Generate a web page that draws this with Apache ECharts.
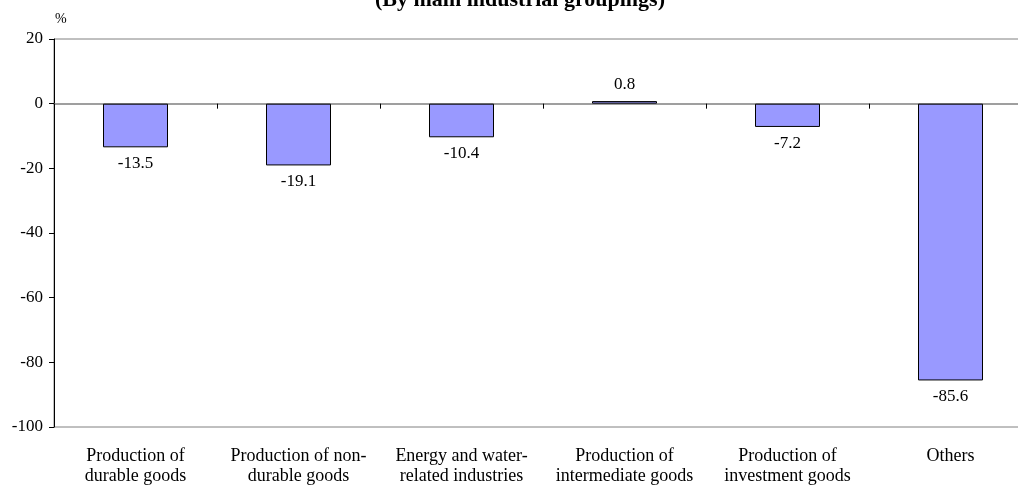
<!DOCTYPE html>
<html>
<head>
<meta charset="utf-8">
<script src="https://cdn.jsdelivr.net/npm/echarts@6/dist/echarts.min.js"></script>
<style>html,body{margin:0;padding:0;background:#fff;overflow:hidden;width:1018px;height:486px;}#c{width:1034px;height:486px;}</style>
</head>
<body>
<div id="c"></div>
<script>
const categories = [
  "Production of\ndurable goods",
  "Production of non-\ndurable goods",
  "Energy and water-\nrelated industries",
  "Production of\nintermediate goods",
  "Production of\ninvestment goods",
  "Others"
];
const values = [-13.5, -19.1, -10.4, 0.8, -7.2, -85.6];
const yTicks = { min: -100, max: 20, interval: 20 };
const titleText = "(By main industrial groupings)";
const unitText = "%";

const font = "'Liberation Serif', 'Times New Roman', serif";
const chart = echarts.init(document.getElementById('c'), null, { renderer: 'canvas' });
chart.setOption({
  animation: false,
  backgroundColor: '#fff',
  title: {
    text: titleText,
    left: 515, top: -16,
    textAlign: 'center',
    textStyle: { fontFamily: font, fontSize: 22, fontWeight: 'bold', color: '#000' }
  },
  graphic: [{
    type: 'text', left: 55, top: 12,
    style: { text: unitText, fontFamily: font, fontSize: 14, fill: '#000' }
  }],
  grid: {
    left: 54, right: 2, top: 39, bottom: 59,
    show: true, borderColor: '#808080', borderWidth: 1, backgroundColor: 'transparent'
  },
  xAxis: [{
    type: 'category', data: categories,
    axisLine: { show: true, onZero: true, lineStyle: { color: '#808080', width: 1.5 } },
    axisTick: { show: true, inside: false, length: 5, lineStyle: { color: '#000' } },
    axisLabel: { show: false }
  }, {
    type: 'category', data: categories, position: 'bottom',
    axisLine: { show: false, onZero: false },
    axisTick: { show: false },
    axisLabel: { show: true, interval: 0, margin: 19, fontFamily: font, fontSize: 18, color: '#000', lineHeight: 20, align: 'center' }
  }],
  yAxis: {
    type: 'value', min: yTicks.min, max: yTicks.max, interval: yTicks.interval,
    axisLine: { show: true, lineStyle: { color: '#000', width: 1 } },
    axisTick: { show: true, length: 5, lineStyle: { color: '#000' } },
    splitLine: { show: false },
    axisLabel: { fontFamily: font, fontSize: 17, color: '#000', margin: 11 }
  },
  series: [{
    type: 'bar', data: values, xAxisIndex: 0,
    barWidth: 65,
    itemStyle: { color: '#9999FF', borderColor: '#000', borderWidth: 1 },
    label: {
      show: true, position: 'outside', distance: 8,
      fontFamily: font, fontSize: 17, color: '#000',
      formatter: p => p.value.toFixed(1)
    }
  }]
});
</script>
</body>
</html>
